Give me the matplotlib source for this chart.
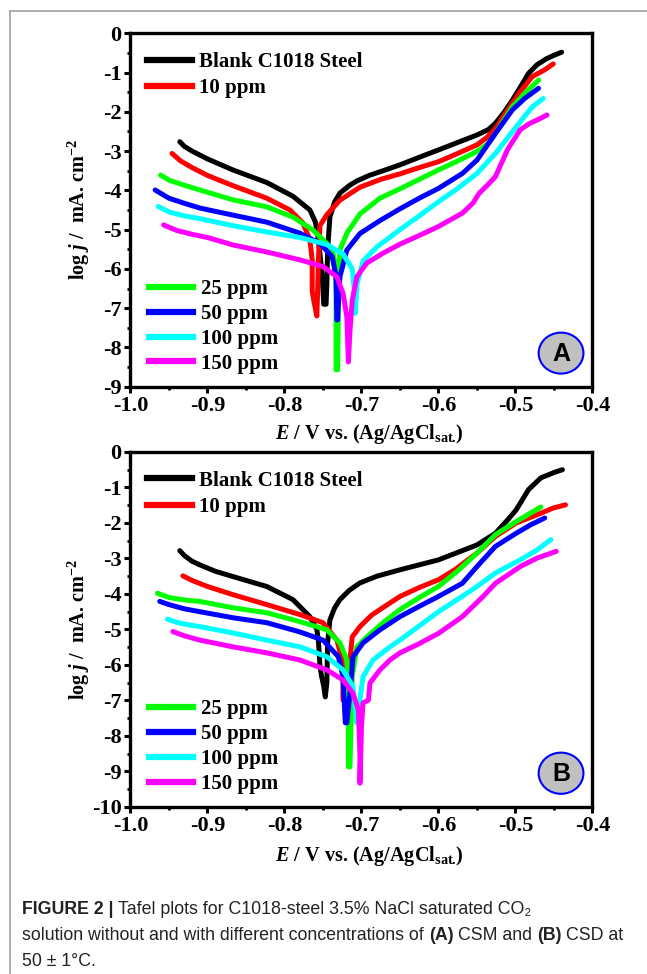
import matplotlib
matplotlib.use('Agg')
import matplotlib.pyplot as plt
from matplotlib.lines import Line2D
from matplotlib.patches import Ellipse
from matplotlib.ticker import MultipleLocator, FormatStrFormatter

plt.rcParams['font.family'] = 'Liberation Serif'
plt.rcParams['font.weight'] = 'bold'
plt.rcParams['axes.unicode_minus'] = False
plt.rcParams['mathtext.fontset'] = 'custom'
plt.rcParams['mathtext.rm'] = 'Liberation Serif:bold'
plt.rcParams['mathtext.it'] = 'Liberation Serif:italic:bold'
plt.rcParams['mathtext.bf'] = 'Liberation Serif:bold'

labels = ['Blank C1018 Steel', '10 ppm', '25 ppm', '50 ppm', '100 ppm', '150 ppm']
colors = ['#000000', '#ff0000', '#00ff00', '#0000ff', '#00ffff', '#ff00ff']

# ---- panel A (CSM) ----
a_blank_e = [-0.936, -0.93, -0.92, -0.90, -0.867, -0.823, -0.789, -0.767, -0.760, -0.757, -0.754, -0.751,
             -0.749, -0.746, -0.745, -0.744, -0.741, -0.735, -0.728, -0.716, -0.706, -0.69, -0.672, -0.65,
             -0.62, -0.60, -0.575, -0.55, -0.535, -0.526, -0.515, -0.504, -0.493, -0.483, -0.472, -0.46,
             -0.45, -0.44]
a_blank_j = [-2.76, -2.88, -3.0, -3.2, -3.48, -3.8, -4.15, -4.5, -4.8, -5.1, -5.6, -6.2,
             -6.9, -6.9, -6.4, -5.5, -4.68, -4.3, -4.07, -3.88, -3.76, -3.62, -3.5, -3.35,
             -3.12, -2.97, -2.78, -2.59, -2.45, -2.29, -2.02, -1.7, -1.35, -1.02, -0.8, -0.65,
             -0.56, -0.48]

a_10_e = [-0.946, -0.935, -0.92, -0.90, -0.867, -0.823, -0.793, -0.776, -0.767, -0.764, -0.764, -0.761,
          -0.758, -0.757, -0.756, -0.754, -0.745, -0.728, -0.702, -0.675, -0.65, -0.625, -0.60, -0.575,
          -0.55, -0.537, -0.526, -0.51, -0.494, -0.478, -0.462, -0.451]
a_10_j = [-3.06, -3.25, -3.42, -3.62, -3.88, -4.2, -4.5, -4.83, -5.26, -5.77, -6.58, -6.9,
          -7.2, -6.6, -5.8, -4.9, -4.62, -4.25, -3.92, -3.72, -3.58, -3.42, -3.27, -3.06,
          -2.84, -2.65, -2.42, -1.95, -1.49, -1.10, -0.93, -0.78]

a_25_e = [-0.961, -0.95, -0.93, -0.91, -0.867, -0.823, -0.789, -0.763, -0.745, -0.737, -0.734, -0.733,
          -0.733, -0.731, -0.730, -0.729, -0.728, -0.719, -0.702, -0.676, -0.65, -0.625, -0.60, -0.575,
          -0.55, -0.535, -0.526, -0.515, -0.504, -0.488, -0.47]
a_25_j = [-3.61, -3.74, -3.87, -3.99, -4.24, -4.42, -4.68, -5.01, -5.35, -5.6, -5.9, -6.6,
          -8.57, -8.57, -7.0, -6.0, -5.52, -5.09, -4.6, -4.2, -3.96, -3.72, -3.48, -3.25,
          -3.01, -2.8, -2.55, -2.2, -1.87, -1.53, -1.19]

a_50_e = [-0.968, -0.95, -0.93, -0.91, -0.867, -0.823, -0.78, -0.754, -0.738, -0.733, -0.732, -0.731,
          -0.729, -0.728, -0.719, -0.702, -0.676, -0.65, -0.625, -0.60, -0.569, -0.55, -0.526, -0.504,
          -0.488, -0.47]
a_50_j = [-3.99, -4.2, -4.33, -4.45, -4.63, -4.81, -5.09, -5.35, -5.69, -6.2, -7.3, -7.3,
          -6.5, -6.2, -5.52, -5.1, -4.77, -4.47, -4.2, -3.95, -3.57, -3.23, -2.55, -1.95,
          -1.66, -1.4]

a_100_e = [-0.964, -0.95, -0.93, -0.91, -0.867, -0.823, -0.78, -0.745, -0.724, -0.712, -0.709, -0.708,
           -0.706, -0.698, -0.68, -0.65, -0.625, -0.60, -0.575, -0.55, -0.526, -0.499, -0.478, -0.464]
a_100_j = [-4.41, -4.55, -4.65, -4.72, -4.9, -5.06, -5.2, -5.38, -5.62, -6.0, -6.6, -7.13,
           -6.4, -5.8, -5.44, -5.0, -4.65, -4.29, -3.95, -3.57, -3.06, -2.38, -1.87, -1.66]

a_150_e = [-0.957, -0.94, -0.92, -0.90, -0.867, -0.823, -0.78, -0.75, -0.732, -0.724, -0.719, -0.717,
           -0.715, -0.712, -0.706, -0.693, -0.672, -0.65, -0.625, -0.60, -0.569, -0.555, -0.547, -0.536,
           -0.526, -0.51, -0.494, -0.482, -0.472, -0.459]
a_150_j = [-4.88, -5.02, -5.12, -5.2, -5.39, -5.57, -5.77, -5.94, -6.2, -6.62, -7.22, -8.37,
           -7.6, -6.8, -6.2, -5.85, -5.6, -5.37, -5.15, -4.92, -4.58, -4.32, -4.07, -3.86,
           -3.65, -2.95, -2.46, -2.3, -2.21, -2.08]

# ---- panel B (CSD) ----
b_blank_e = [-0.936, -0.93, -0.92, -0.91, -0.89, -0.867, -0.823, -0.789, -0.767, -0.758, -0.756, -0.754,
             -0.752, -0.749, -0.747, -0.745, -0.744, -0.741, -0.735, -0.728, -0.716, -0.702, -0.68, -0.65,
             -0.60, -0.55, -0.526, -0.51, -0.499, -0.483, -0.467, -0.45, -0.439]
b_blank_j = [-2.78, -2.92, -3.08, -3.18, -3.36, -3.51, -3.79, -4.16, -4.64, -5.0, -5.3, -6.0,
             -6.3, -6.6, -6.9, -6.5, -5.38, -4.73, -4.4, -4.16, -3.9, -3.69, -3.5, -3.32,
             -3.04, -2.62, -2.29, -1.91, -1.63, -1.06, -0.73, -0.58, -0.5]

b_10_e = [-0.932, -0.92, -0.90, -0.867, -0.823, -0.78, -0.75, -0.732, -0.725, -0.724, -0.724, -0.720,
          -0.715, -0.712, -0.702, -0.687, -0.676, -0.65, -0.625, -0.60, -0.579, -0.55, -0.526, -0.499,
          -0.472, -0.451, -0.435]
b_10_j = [-3.49, -3.62, -3.79, -4.02, -4.3, -4.58, -4.81, -5.3, -5.86, -6.5, -6.99, -6.99,
          -5.86, -5.21, -4.92, -4.6, -4.44, -4.07, -3.82, -3.6, -3.32, -2.85, -2.38, -2.0,
          -1.77, -1.58, -1.49]

b_25_e = [-0.965, -0.95, -0.93, -0.91, -0.867, -0.823, -0.78, -0.745, -0.728, -0.719, -0.717, -0.717,
          -0.715, -0.712, -0.706, -0.693, -0.672, -0.65, -0.625, -0.60, -0.575, -0.55, -0.526, -0.499,
          -0.467]
b_25_j = [-3.98, -4.1, -4.17, -4.21, -4.39, -4.53, -4.78, -5.01, -5.38, -5.86, -6.5, -8.87,
          -8.87, -6.33, -5.49, -5.21, -4.81, -4.44, -4.1, -3.79, -3.35, -2.85, -2.33, -1.96,
          -1.55]

b_50_e = [-0.962, -0.95, -0.93, -0.91, -0.867, -0.823, -0.78, -0.75, -0.73, -0.724, -0.721, -0.719,
          -0.715, -0.711, -0.698, -0.676, -0.65, -0.625, -0.60, -0.569, -0.55, -0.526, -0.499, -0.48,
          -0.462]
b_50_j = [-4.21, -4.3, -4.42, -4.5, -4.67, -4.81, -5.07, -5.3, -5.77, -6.33, -7.63, -7.63,
          -6.8, -5.77, -5.38, -5.01, -4.64, -4.35, -4.07, -3.7, -3.23, -2.66, -2.29, -2.05,
          -1.86]

b_100_e = [-0.952, -0.94, -0.93, -0.91, -0.867, -0.823, -0.78, -0.745, -0.724, -0.711, -0.706, -0.705,
           -0.702, -0.698, -0.685, -0.663, -0.65, -0.625, -0.60, -0.575, -0.55, -0.526, -0.494, -0.472,
           -0.454]
b_100_j = [-4.71, -4.8, -4.85, -4.92, -5.1, -5.3, -5.49, -5.77, -6.14, -6.61, -7.63, -7.2,
           -6.99, -6.33, -5.86, -5.49, -5.3, -4.9, -4.5, -4.15, -3.79, -3.41, -3.04, -2.76,
           -2.47]

b_150_e = [-0.945, -0.93, -0.91, -0.867, -0.823, -0.78, -0.745, -0.724, -0.711, -0.704, -0.702, -0.702,
           -0.700, -0.698, -0.691, -0.689, -0.676, -0.663, -0.65, -0.625, -0.60, -0.569, -0.542, -0.526,
           -0.494, -0.472, -0.447]
b_150_j = [-5.06, -5.18, -5.3, -5.49, -5.66, -5.86, -6.14, -6.42, -6.8, -7.27, -8.5, -9.33,
           -7.74, -7.07, -6.99, -6.51, -6.14, -5.86, -5.66, -5.4, -5.11, -4.64, -4.07, -3.7,
           -3.23, -2.99, -2.8]

panel_a = [(a_blank_e, a_blank_j), (a_10_e, a_10_j), (a_25_e, a_25_j),
           (a_50_e, a_50_j), (a_100_e, a_100_j), (a_150_e, a_150_j)]
panel_b = [(b_blank_e, b_blank_j), (b_10_e, b_10_j), (b_25_e, b_25_j),
           (b_50_e, b_50_j), (b_100_e, b_100_j), (b_150_e, b_150_j)]

fig = plt.figure(figsize=(6.47, 9.74), dpi=100)

# light grey frame (top and left)
fig.add_artist(Line2D([10/647, 1], [1-11/974, 1-11/974], transform=fig.transFigure, color='#a0a0a0', lw=1.2))
fig.add_artist(Line2D([10/647, 10/647], [0, 1-11/974], transform=fig.transFigure, color='#a0a0a0', lw=1.2))

axA = fig.add_axes([0.2017, 0.603, 0.714, 0.3628])
axB = fig.add_axes([0.2017, 0.1715, 0.714, 0.3645])


def draw_panel(ax, series, ymin, letter, xlab_y):
    for (e, j), c in zip(series, colors):
        ax.plot(e, j, color=c, lw=3.6, solid_joinstyle='round', solid_capstyle='round')
    ax.set_xlim(-1.0, -0.4)
    ax.set_ylim(ymin, 0)
    ax.xaxis.set_major_locator(MultipleLocator(0.1))
    ax.xaxis.set_minor_locator(MultipleLocator(0.05))
    ax.yaxis.set_major_locator(MultipleLocator(1))
    ax.yaxis.set_minor_locator(MultipleLocator(0.5))
    ax.xaxis.set_major_formatter(FormatStrFormatter('%.1f'))
    ax.yaxis.set_major_formatter(FormatStrFormatter('%d'))
    ax.tick_params(which='major', direction='out', length=4, width=2.2, labelsize=16, pad=2.5)
    ax.tick_params(which='minor', direction='out', length=2, width=2)
    for s in ax.spines.values():
        s.set_linewidth(2.4)
    ax.set_xlabel(r'$\it{E}$ / V vs. (Ag/AgCl$_{\rm sat.}\!)$', fontsize=14.6, fontweight='bold')
    ax.set_ylabel(r'log $\it{j}$ /  mA. cm$^{-2}$', fontsize=14.5, fontweight='bold')
    ax.xaxis.set_label_coords(0.516, xlab_y)
    ax.yaxis.set_label_coords(-0.083, 0.5)

    h = [Line2D([], [], color=c, lw=4.5, marker='o', ms=2.5) for c in colors]
    leg1 = ax.legend(h[:2], labels[:2], loc='upper left', bbox_to_anchor=(0.036, 0.947),
                     frameon=False, fontsize=15, handlelength=2.15, handletextpad=0.35,
                     labelspacing=0.3, borderpad=0, borderaxespad=0, numpoints=1)
    ax.add_artist(leg1)
    ax.legend(h[2:], labels[2:], loc='lower left', bbox_to_anchor=(0.039, 0.037),
              frameon=False, fontsize=15, handlelength=2.15, handletextpad=0.35,
              labelspacing=0.23, borderpad=0, borderaxespad=0, numpoints=1)

    ax.add_patch(Ellipse((0.932, 0.095), 0.097, 0.116, transform=ax.transAxes,
                         facecolor='#c0c0c0', edgecolor='#0000ff', lw=1.5))
    ax.text(0.932, 0.093, letter, transform=ax.transAxes, ha='center', va='center',
            fontsize=18, fontweight='bold', family='Liberation Sans')


draw_panel(axA, panel_a, -9, 'A', -0.1)
draw_panel(axB, panel_b, -10, 'B', -0.103)

# caption with mixed weights
cap_lines = [
    [('FIGURE 2 |', 'bold'), (' Tafel plots for C1018-steel 3.5% NaCl saturated CO\u2082', 'normal')],
    [('solution without and with different concentrations of ', 'normal'), ('(A)', 'bold'),
     (' CSM and ', 'normal'), ('(B)', 'bold'), (' CSD at', 'normal')],
    [('50 \u00b1 1\u00b0C.', 'normal')],
]
cap_y = [909, 936, 962]
cap_size = 12.8
renderer = fig.canvas.get_renderer()
probe = fig.text(0, 0, 'a a', fontsize=cap_size, family=['Liberation Sans', 'DejaVu Sans'])
w1 = probe.get_window_extent(renderer).width
probe.set_text('aa')
space_w = w1 - probe.get_window_extent(renderer).width
probe.remove()
for segs, y in zip(cap_lines, cap_y):
    x = 22
    for txt, wt in segs:
        lead = len(txt) - len(txt.lstrip(' '))
        trail = len(txt) - len(txt.rstrip(' '))
        x += lead * space_w
        core = txt.strip(' ')
        t = fig.text(x / 647, 1 - y / 974, core, fontsize=cap_size, fontweight=wt,
                     family=['Liberation Sans', 'DejaVu Sans'], ha='left', va='center', color='#222222')
        x += t.get_window_extent(renderer).width + trail * space_w

fig.savefig('out.png', dpi=100)
